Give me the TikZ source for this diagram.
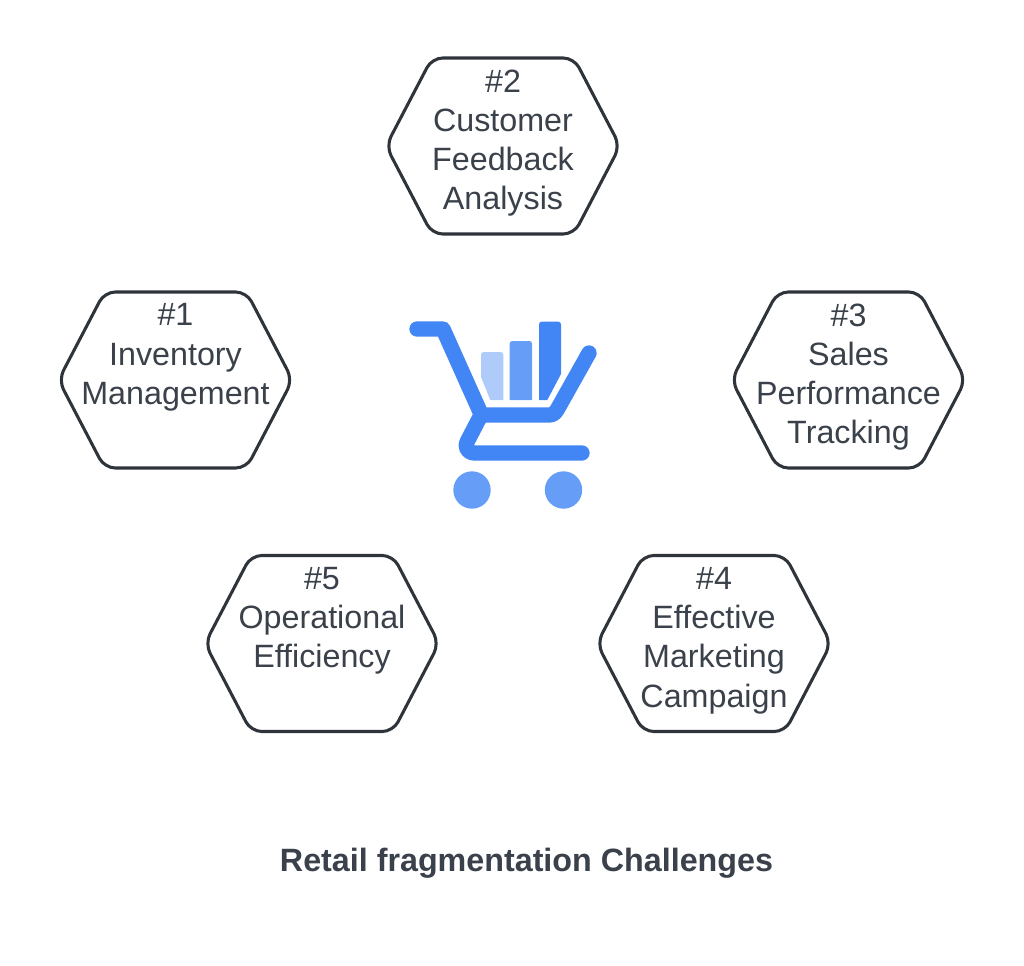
\documentclass[tikz,border=0pt]{standalone}
\usepackage{fontspec}
\setmainfont{Liberation Sans}
\usepackage{xcolor}
\usetikzlibrary{positioning}
\definecolor{inkgray}{HTML}{3A414A}
\definecolor{edgegray}{HTML}{2F343A}
\definecolor{cartblue}{HTML}{4285F4}
\definecolor{midblue}{HTML}{669DF6}
\definecolor{paleblue}{HTML}{AECBFA}
\tikzset{
  hexline/.style={draw=edgegray, line width=2.3pt, rounded corners=8pt, fill=white},
  hexlabel/.style={anchor=north, align=center, inner sep=0pt, text=inkgray,
    font=\fontsize{24.2}{29.4}\selectfont},
  cartline/.style={draw=cartblue, line width=11.5pt, line cap=round, line join=round},
  titlelabel/.style={text=inkgray, inner sep=0pt, font=\fontsize{24.2}{29}\bfseries\selectfont}
}
% hexagon with its text, centre given in pixels
\newcommand{\hexnode}[4]{
  \draw [hexline] (#2-117,#3) -- (#2-71,#3-88) -- (#2+71,#3-88) -- (#2+117,#3)
    -- (#2+71,#3+88) -- (#2-71,#3+88) -- cycle;
  \node [hexlabel] (#1) at (#2,#3-76.5) {#4};
}

\begin{document}
\begin{tikzpicture}[x=0.75pt, y=-0.75pt]
    \useasboundingbox (0,0) rectangle (1024,966);

    % Place hexagons
    \hexnode{inventory}{175.5}{380}{\#1\\Inventory\\Management}
    \hexnode{feedback}{503}{146}{\#2\\Customer\\Feedback\\Analysis}
    \hexnode{sales}{848.5}{380}{\#3\\Sales\\Performance\\Tracking}
    \hexnode{marketing}{714}{643.5}{\#4\\Effective\\Marketing\\Campaign}
    \hexnode{efficiency}{322}{643.5}{\#5\\Operational\\Efficiency}

    % Cart bars
    \fill [paleblue] (490.3,400) -- (481,377) [rounded corners=2pt] -- (481,352) -- (503.3,352) [sharp corners] -- (503.3,400) -- cycle;
    \fill [midblue] (509.7,400) [rounded corners=2pt] -- (509.7,341) -- (532,341) [sharp corners] -- (532,400) -- cycle;
    \fill [cartblue] (539,400) [rounded corners=2pt] -- (539,321.7) -- (561,321.7) [sharp corners] -- (561,374) -- (547.3,400) -- cycle;

    % Cart frame
    \draw [cartline] (417,329) -- (443,329) -- (481.5,415) -- (549,415)
      .. controls (553,415) and (555,413) .. (557,410) -- (589,353);
    \draw [cartline] (480,417) -- (467.5,441)
      .. controls (464,448) and (468,453) .. (475,453) -- (582,453);

    % Wheels
    \fill [midblue] (472,490) circle [radius=18.7];
    \fill [midblue] (563.5,490) circle [radius=18.7];

    % Title
    \node [titlelabel] (title) at (526.5,863) {Retail fragmentation Challenges};
\end{tikzpicture}
\end{document}
